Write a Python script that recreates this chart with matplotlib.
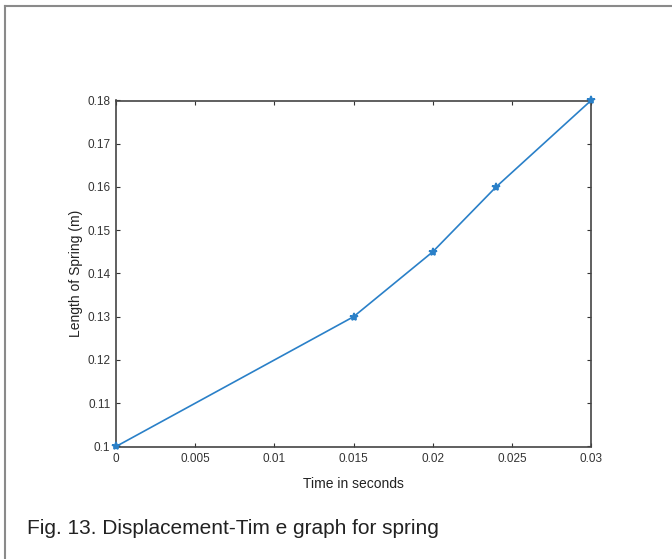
import matplotlib
matplotlib.use('Agg')
import matplotlib.pyplot as plt

# Data
time_s = [0, 0.015, 0.02, 0.024, 0.03]
length_m = [0.1, 0.13, 0.145, 0.16, 0.18]
xticks = [0, 0.005, 0.01, 0.015, 0.02, 0.025, 0.03]
xtick_labels = ['0', '0.005', '0.01', '0.015', '0.02', '0.025', '0.03']
yticks = [0.1, 0.11, 0.12, 0.13, 0.14, 0.15, 0.16, 0.17, 0.18]
ytick_labels = ['0.1', '0.11', '0.12', '0.13', '0.14', '0.15', '0.16', '0.17', '0.18']

plt.rcParams['font.family'] = ['Liberation Sans', 'DejaVu Sans']

fig = plt.figure(figsize=(6.72, 5.59), dpi=100)

# grey frame of the scanned figure (only left and top edges are visible)
fig.add_artist(plt.Line2D([5 / 672, 5 / 672], [0, 1 - 6 / 559], color='#8a8a8a', lw=1.5,
                          transform=fig.transFigure))
fig.add_artist(plt.Line2D([5 / 672, 1], [1 - 6 / 559, 1 - 6 / 559], color='#8a8a8a', lw=1.5,
                          transform=fig.transFigure))

ax = fig.add_axes([116 / 672, 1 - 446.5 / 559, 475 / 672, 346 / 559])
ax.plot(time_s, length_m, '-*', color='#2a80c8', lw=1.2, ms=6, mew=1.2, clip_on=False, zorder=3)

ax.set_xlim(0, 0.03)
ax.set_ylim(0.1, 0.18)
ax.set_xticks(xticks)
ax.set_xticklabels(xtick_labels)
ax.set_yticks(yticks)
ax.set_yticklabels(ytick_labels)
ax.tick_params(direction='in', length=3, width=0.8, labelsize=8.5, colors='#333333',
               top=True, right=True)
ax.tick_params(axis='x', pad=5)
ax.tick_params(axis='y', pad=4)
for s in ax.spines.values():
    s.set_color('#444444')
    s.set_linewidth(1.2)

ax.set_xlabel('Time in seconds', fontsize=10, labelpad=8, color='#222222')
ax.set_ylabel('Length of Spring (m)', fontsize=10, labelpad=3, color='#222222')

fig.text(27 / 672, 1 - 528 / 559, 'Fig. 13. Displacement-Tim e graph for spring',
         fontsize=15, va='center', ha='left', color='#222222')

fig.savefig('out.png', dpi=100)
